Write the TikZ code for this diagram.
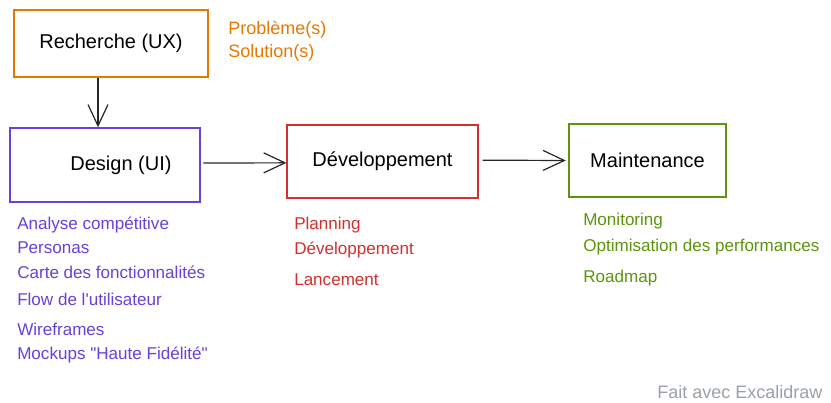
\documentclass[tikz,border=0pt]{standalone}
\usepackage{fontspec}
\setmainfont{Liberation Sans}
\usetikzlibrary{arrows.meta,positioning}
\definecolor{uxorange}{HTML}{E67700}
\definecolor{uipurple}{HTML}{6741D9}
\definecolor{devred}{HTML}{D0302F}
\definecolor{maintgreen}{HTML}{5C940D}
\definecolor{footgray}{HTML}{9AA0A6}

\begin{document}
\begin{tikzpicture}[x=0.75pt, y=-0.75pt,
  phase/.style={rectangle, draw, line width=1.1pt, font=\fontsize{15}{18}\selectfont},
  item/.style={anchor=west, inner sep=0pt, font=\fontsize{12.8}{15}\selectfont},
  flow/.style={-{Straight Barb[length=16pt,width=15pt]}, line width=0.9pt, draw=black!85}]
  \useasboundingbox (0,0) rectangle (831,403);

  \node[phase, draw=uxorange, minimum width=145.5pt, minimum height=50pt] (ux) at (111,43.5) {Recherche (UX)};
  \node[phase, draw=uipurple, minimum width=142.5pt, minimum height=55.5pt,
        label={[font=\fontsize{15}{18}\selectfont, xshift=12pt]center:Design (UI)}] (ui) at (105,165) {};
  \node[phase, draw=devred, minimum width=143pt, minimum height=55pt] (dev) at (382.5,161.5) {Développement};
  \node[phase, draw=maintgreen, minimum width=117.5pt, minimum height=55pt] (maint) at (647.5,160.5) {Maintenance};

  \node[item, text=uxorange, font=\fontsize{13.5}{15}\selectfont] (pb) at (228,30) {Problème(s)};
  \node[item, text=uxorange, font=\fontsize{13.5}{15}\selectfont] (sol) at (228,53) {Solution(s)};

  \draw[flow] ([xshift=-9.75pt]ux.south) -- ([xshift=-5.25pt]ui.north);
  \draw[flow] ([xshift=2pt,yshift=1.5pt]ui.east) -- ([yshift=-1pt]dev.west);
  \draw[flow] ([xshift=3pt,yshift=1pt]dev.east) -- ([xshift=-2pt]maint.west);

  % design
  \node[item, text=uipurple] (ui1) at (17,225) {Analyse compétitive};
  \node[item, text=uipurple] (ui2) at (17,248) {Personas};
  \node[item, text=uipurple] (ui3) at (17,272) {Carte des fonctionnalités};
  \node[item, text=uipurple] (ui4) at (17,299) {Flow de l\textquotesingle utilisateur};
  \node[item, text=uipurple] (ui5) at (17,329) {Wireframes};
  \node[item, text=uipurple] (ui6) at (17,355) {Mockups \textquotedbl Haute Fidélité\textquotedbl};

  % developpement
  \node[item, text=devred] (dev1) at (294,225) {Planning};
  \node[item, text=devred] (dev2) at (294,250) {Développement};
  \node[item, text=devred] (dev3) at (294,280) {Lancement};

  % maintenance
  \node[item, text=maintgreen] (mt1) at (583,221) {Monitoring};
  \node[item, text=maintgreen] (mt2) at (583,247) {Optimisation des performances};
  \node[item, text=maintgreen] (mt3) at (583,278) {Roadmap};

  \node[item, text=footgray, font=\fontsize{13.5}{15}\selectfont] (foot) at (657,392) {Fait avec Excalidraw};
\end{tikzpicture}
\end{document}
